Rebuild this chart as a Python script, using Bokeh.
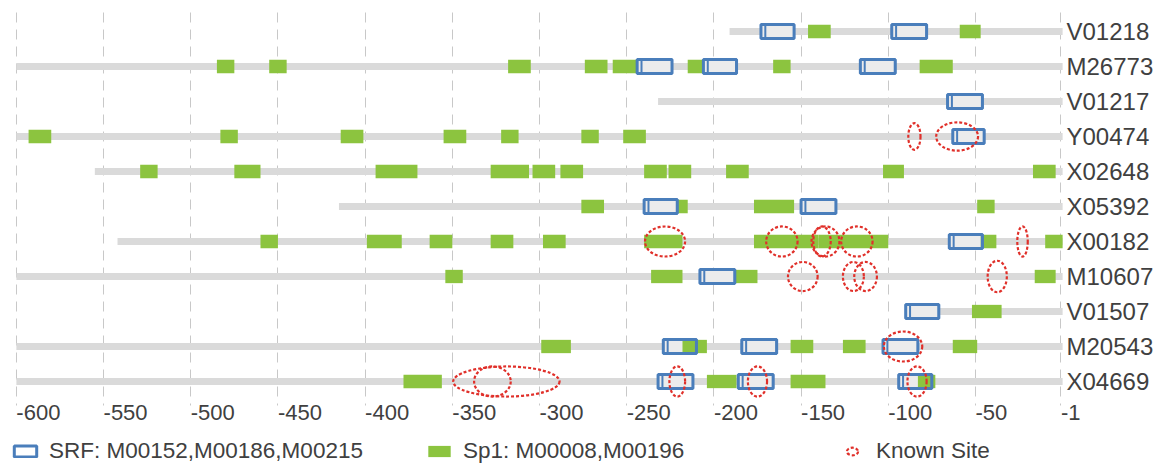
from bokeh.plotting import figure
from bokeh.models import Range1d, FixedTicker, Legend, LegendItem, ColumnDataSource, Grid
from bokeh.core.properties import value
from bokeh.embed import file_html
from bokeh.resources import INLINE

# ---------------- data ----------------
rows = ["V01218", "M26773", "V01217", "Y00474", "X02648", "X05392",
        "X00182", "M10607", "V01507", "M20543", "X04669"]
backbone_start = [-191, -600, -232, -600, -555, -415, -542, -600, -90, -600, -600]
backbone_end = [0, 0, 0, 0, 0, 0, 0, 0, 0, 0, 0]

x_ticks = [-600, -550, -500, -450, -400, -350, -300, -250, -200, -150, -100, -50, -1]
x_tick_labels = ["-600", "-550", "-500", "-450", "-400", "-350", "-300", "-250",
                 "-200", "-150", "-100", "-50", "-1"]

# Sp1 sites (row, start, end)
sp1_row = (["V01218"] * 2 + ["M26773"] * 8 + ["Y00474"] * 7 + ["X02648"] * 11 +
           ["X05392"] * 4 + ["X00182"] * 10 + ["M10607"] * 4 + ["V01507"] * 1 +
           ["M20543"] * 5 + ["X04669"] * 4)
sp1_start = [-146, -59,
             -485, -455, -318, -274, -258, -215, -166, -82,
             -593, -483, -414, -355, -322, -276, -252,
             -529, -475, -394, -328, -304, -288, -240, -226, -193, -103, -17,
             -276, -221, -177, -49,
             -460, -399, -363, -328, -298, -240, -177, -140, -47, -10,
             -354, -236, -188, -16,
             -52,
             -299, -218, -156, -126, -63,
             -378, -204, -156, -83]
sp1_end = [-133, -47,
           -475, -445, -305, -261, -244, -206, -156, -63,
           -580, -473, -401, -342, -312, -266, -239,
           -519, -460, -370, -306, -291, -275, -227, -213, -180, -91, -4,
           -263, -215, -154, -39,
           -450, -379, -350, -315, -285, -218, -140, -100, -38, 0,
           -344, -218, -175, -4,
           -35,
           -282, -204, -143, -113, -49,
           -356, -187, -136, -73]

# SRF sites (row, start, end)
srf_row = (["V01218"] * 2 + ["M26773"] * 3 + ["V01217"] + ["Y00474"] +
           ["X05392"] * 2 + ["X00182"] + ["M10607"] + ["V01507"] +
           ["M20543"] * 3 + ["X04669"] * 3)
srf_start = [-173, -98, -244, -206, -116, -66, -63, -240, -150, -65, -208, -90,
             -229, -184, -103, -232, -186, -94]
srf_end = [-154, -78, -224, -187, -96, -46, -45, -221, -130, -46, -188, -71,
           -210, -164, -83, -212, -166, -75]

# Known sites (row, centre, width in bp, height in row units)
known_row = (["Y00474"] * 2 + ["X00182"] * 6 + ["M10607"] * 4 + ["M20543"] +
             ["X04669"] * 5)
known_center = [-85, -60.5,
                -228, -161, -136, -138, -118, -23,
                -149, -120, -113, -37.5,
                -91.5,
                -319, -327, -221, -175, -83.5]
known_width = [7, 24,
               23, 18, 16, 10, 18, 6,
               17, 12, 13, 11,
               22,
               61, 21, 9, 11, 11]
known_height = [0.76, 0.81,
                0.86, 0.86, 0.86, 0.86, 0.86, 0.86,
                0.83, 0.83, 0.83, 0.9,
                0.86,
                0.86, 0.86, 0.86, 0.86, 0.86]

# ---------------- layout constants (pixels) ----------------
W, H = 1156, 464
PLOT_LEFT_PX, PLOT_RIGHT_PX = 15, 1063      # where -600.5 and 0.5 fall
ROW_PX = 35                                 # distance between rows
TOP_PX = 12                                 # top of the grid lines
ROW0_PX = 31                                # centre of the first row
GRID_BOTTOM_PX = 405
TICK_LABEL_PX = 411.5                       # centre of the tick labels
ROW_LABEL_PX = 1066                         # left edge of the row labels

FONT = "Liberation Sans"
TXT = "#404040"

ppu = (PLOT_RIGHT_PX - PLOT_LEFT_PX) / 601.0
x_start = -600.5 - PLOT_LEFT_PX / ppu
x_end = 0.5 + (W - PLOT_RIGHT_PX) / ppu
y_top = -ROW0_PX / ROW_PX
y_bottom = y_top + H / ROW_PX


def ypx(px):
    return y_top + px / ROW_PX


def xpx(px):
    return x_start + px / ppu


idx = {r: i for i, r in enumerate(rows)}
bb_src = ColumnDataSource(dict(y=list(range(len(rows))), x0=backbone_start, x1=backbone_end))
sp1_src = ColumnDataSource(dict(y=[idx[r] for r in sp1_row], left=sp1_start, right=sp1_end))
srf_src = ColumnDataSource(dict(y=[idx[r] for r in srf_row], left=srf_start, right=srf_end,
                                left2=[s + 2.5 for s in srf_start]))
kn_src = ColumnDataSource(dict(y=[idx[r] for r in known_row], x=known_center,
                               w=known_width, h=known_height))
tick_src = ColumnDataSource(dict(x=x_ticks, text=x_tick_labels,
                                 y=[ypx(TICK_LABEL_PX)] * len(x_ticks)))
row_src = ColumnDataSource(dict(y=list(range(len(rows))), text=rows,
                                x=[xpx(ROW_LABEL_PX)] * len(rows)))

p = figure(frame_width=W, frame_height=H, output_backend="svg", toolbar_location=None,
           title=None, x_axis_location=None, y_axis_location=None,
           x_range=Range1d(x_start, x_end), y_range=Range1d(y_bottom, y_top),
           min_border=0)
p.outline_line_color = None
p.xgrid.visible = False
p.ygrid.visible = False

grid_kw = dict(dimension=0, ticker=FixedTicker(ticks=x_ticks),
               grid_line_color="#c8c8c8", grid_line_dash="10 7", grid_line_width=1)
try:
    grid = Grid(cross_bounds=(ypx(TOP_PX), ypx(GRID_BOTTOM_PX)), **grid_kw)
    p.add_layout(grid)
except AttributeError:
    p.segment(x0=x_ticks, x1=x_ticks, y0=[ypx(TOP_PX)] * len(x_ticks),
              y1=[ypx(GRID_BOTTOM_PX)] * len(x_ticks),
              line_color="#c8c8c8", line_dash="10 7", line_width=1)

p.segment(x0="x0", y0="y", x1="x1", y1="y", source=bb_src, line_width=7, line_color="#dadada")
p.hbar(y="y", left="left", right="right", height=0.40, source=srf_src,
       fill_color="#ececec", line_color=None)
sp1_r = p.hbar(y="y", left="left", right="right", height=0.38, source=sp1_src,
               fill_color="#8cc43f", line_color=None)
p.hbar(y="y", left="left2", right="right", height=0.40, source=srf_src,
       fill_color=None, line_color="#4a7ebb", line_width=2)
srf_r = p.hbar(y="y", left="left", right="right", height=0.40, source=srf_src,
               fill_color=None, line_color="#4a7ebb", line_width=3)
kn_r = p.ellipse(x="x", y="y", width="w", height="h", source=kn_src,
                 fill_color=None, line_color="#e0302a", line_width=2.2, line_dash="3 2")

# axis texts
p.text(x="x", y="y", text="text", source=tick_src, text_font=value(FONT),
       text_font_size="22px", text_color=TXT, text_align="left", text_baseline="middle")
p.text(x="x", y="y", text="text", source=row_src, text_font=value(FONT),
       text_font_size="24px", text_color=TXT, text_align="left", text_baseline="middle")

legend = Legend(items=[
    LegendItem(label="SRF: M00152,M00186,M00215", renderers=[srf_r]),
    LegendItem(label="Sp1: M00008,M00196", renderers=[sp1_r]),
    LegendItem(label="Known Site", renderers=[kn_r], index=1),
], orientation="horizontal", location=(11, 0),
    border_line_color=None, background_fill_alpha=0,
    label_text_font=FONT, label_text_font_size="22.5px", label_text_color=TXT,
    glyph_width=28, glyph_height=14, label_standoff=10, spacing=62, label_width=313,
    padding=0, margin=0)
p.add_layout(legend)

open("out.html", "w").write(file_html(p, INLINE))
